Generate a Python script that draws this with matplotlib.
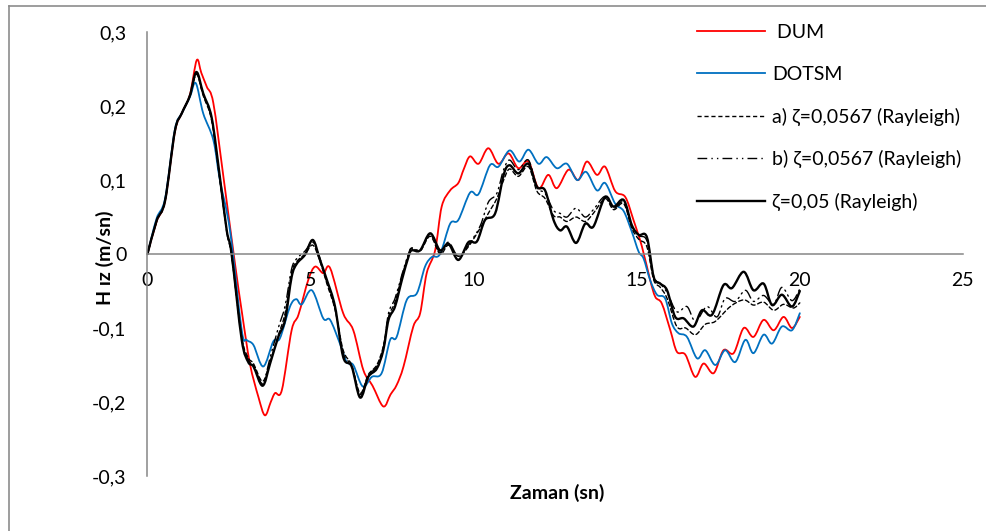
import matplotlib
matplotlib.use("Agg")
import numpy as np
import matplotlib.pyplot as plt
from matplotlib.lines import Line2D
from matplotlib.path import Path
from matplotlib.patches import PathPatch

plt.rcParams['font.family'] = ['Lato', 'DejaVu Sans']

# Time (sn) and velocity (m/sn) for each method
dum_t = [0, 0.28, 0.54, 0.84, 1.05, 1.3, 1.51, 1.65, 1.82, 2.02, 2.33, 2.68, 2.9, 3.14, 3.4,
         3.6, 3.78, 3.91, 4.12, 4.42, 4.63, 4.93, 5.14, 5.39, 5.6, 6.0, 6.31, 6.62, 6.9, 7.23,
         7.45, 7.64, 7.85, 8.15, 8.36, 8.56, 8.82, 9.02, 9.28, 9.53, 9.7, 9.89, 10.15, 10.45, 10.76,
         11.07, 11.37, 11.68, 11.99, 12.29, 12.55, 12.91, 13.21, 13.47, 13.78, 14.03, 14.34, 14.65, 14.9, 15.16,
         15.41, 15.57, 15.77, 16.03, 16.23, 16.49, 16.79, 17.05, 17.36, 17.66, 17.97, 18.28, 18.58, 18.89, 19.2,
         19.5, 19.76, 20.0]
dum_v = [0, 0.044, 0.072, 0.165, 0.19, 0.215, 0.262, 0.245, 0.226, 0.204, 0.104, -0.012, -0.08, -0.148, -0.193,
         -0.218, -0.2, -0.188, -0.184, -0.103, -0.082, -0.035, -0.017, -0.026, -0.019, -0.08, -0.103, -0.157, -0.178, -0.206,
         -0.19, -0.177, -0.152, -0.098, -0.08, -0.026, 0.005, 0.064, 0.086, 0.096, 0.115, 0.132, 0.122, 0.143, 0.122,
         0.136, 0.116, 0.125, 0.089, 0.107, 0.089, 0.114, 0.1, 0.125, 0.107, 0.118, 0.085, 0.077, 0.046, 0.01,
         -0.035, -0.058, -0.067, -0.103, -0.132, -0.136, -0.166, -0.148, -0.161, -0.13, -0.134, -0.1, -0.112, -0.089, -0.103,
         -0.085, -0.1, -0.085]

dotsm_t = [0, 0.28, 0.54, 0.84, 1.05, 1.3, 1.48, 1.71, 2.02, 2.22, 2.53, 2.89, 3.04, 3.25, 3.55,
           3.86, 4.06, 4.37, 4.56, 4.73, 5.04, 5.39, 5.6, 5.9, 6.11, 6.31, 6.6, 6.88, 7.18, 7.44,
           7.64, 7.95, 8.26, 8.51, 8.72, 8.97, 9.28, 9.53, 9.89, 10.15, 10.5, 10.76, 11.1, 11.4, 11.68,
           11.99, 12.24, 12.55, 12.86, 13.17, 13.45, 13.78, 14.03, 14.34, 14.6, 14.85, 15.06, 15.21, 15.41, 15.62,
           15.87, 16.08, 16.28, 16.54, 16.85, 17.1, 17.41, 17.71, 18.02, 18.33, 18.58, 18.89, 19.15, 19.45, 19.76,
           20.0]
dotsm_v = [0, 0.048, 0.075, 0.168, 0.19, 0.212, 0.231, 0.19, 0.154, 0.1, 0.032, -0.103, -0.116, -0.123, -0.152,
           -0.118, -0.114, -0.071, -0.061, -0.068, -0.049, -0.087, -0.089, -0.121, -0.146, -0.15, -0.179, -0.166, -0.161, -0.116,
           -0.112, -0.062, -0.053, -0.017, -0.004, 0.0, 0.041, 0.046, 0.083, 0.081, 0.12, 0.118, 0.14, 0.125, 0.141,
           0.122, 0.131, 0.116, 0.122, 0.1, 0.111, 0.086, 0.096, 0.068, 0.058, 0.03, 0.003, -0.006, -0.035, -0.055,
           -0.06, -0.094, -0.107, -0.112, -0.141, -0.13, -0.15, -0.13, -0.146, -0.116, -0.134, -0.109, -0.121, -0.098, -0.103,
           -0.08]

ray_a_t = [0, 0.28, 0.54, 0.84, 1.05, 1.3, 1.5, 1.71, 1.97, 2.22, 2.43, 2.58, 2.89, 3.09, 3.25,
           3.53, 3.76, 4.01, 4.22, 4.42, 4.58, 4.83, 5.07, 5.29, 5.5, 5.75, 6.0, 6.26, 6.52, 6.77,
           7.03, 7.23, 7.39, 7.59, 7.8, 8.0, 8.1, 8.36, 8.67, 8.97, 9.23, 9.53, 9.84, 10.2, 10.45,
           10.71, 10.92, 11.1, 11.37, 11.68, 11.94, 12.19, 12.45, 12.65, 12.86, 13.14, 13.42, 13.67, 14.03, 14.29,
           14.6, 14.85, 15.06, 15.31, 15.52, 15.72, 15.93, 16.23, 16.5, 16.8, 17.1, 17.41, 17.87, 18.28, 18.58,
           18.89, 19.2, 19.5, 19.8, 20.0]
ray_a_v = [0, 0.045, 0.072, 0.166, 0.19, 0.213, 0.243, 0.214, 0.18, 0.1, 0.03, -0.003, -0.112, -0.14, -0.148,
           -0.172, -0.146, -0.11, -0.08, -0.025, -0.01, 0.0, 0.012, -0.01, -0.04, -0.075, -0.13, -0.15, -0.188, -0.163,
           -0.15, -0.125, -0.085, -0.065, -0.03, -0.002, 0.008, 0.004, 0.024, 0.0, 0.012, -0.003, 0.01, 0.035, 0.055,
           0.075, 0.1, 0.115, 0.105, 0.118, 0.085, 0.075, 0.052, 0.05, 0.044, 0.05, 0.044, 0.055, 0.075, 0.06,
           0.068, 0.035, 0.02, 0.01, -0.035, -0.045, -0.06, -0.098, -0.1, -0.109, -0.095, -0.091, -0.071, -0.062, -0.069,
           -0.065, -0.076, -0.068, -0.073, -0.066]

ray_b_t = [0, 0.28, 0.54, 0.84, 1.05, 1.3, 1.5, 1.71, 1.97, 2.22, 2.43, 2.58, 2.89, 3.09, 3.25,
           3.53, 3.76, 4.01, 4.22, 4.42, 4.58, 4.83, 5.07, 5.29, 5.5, 5.75, 6.0, 6.26, 6.52, 6.77,
           7.03, 7.23, 7.39, 7.59, 7.8, 8.0, 8.1, 8.36, 8.67, 8.97, 9.23, 9.53, 9.84, 10.2, 10.45,
           10.71, 10.92, 11.1, 11.37, 11.68, 11.94, 12.19, 12.45, 12.65, 12.86, 13.14, 13.42, 13.67, 14.03, 14.29,
           14.6, 14.85, 15.06, 15.31, 15.52, 15.72, 15.93, 16.23, 16.54, 16.8, 17.15, 17.46, 17.71, 18.02, 18.33,
           18.58, 18.89, 19.2, 19.45, 19.76, 20.0]
ray_b_v = [0, 0.044, 0.072, 0.166, 0.19, 0.214, 0.244, 0.216, 0.182, 0.102, 0.031, -0.002, -0.113, -0.143, -0.15,
           -0.175, -0.14, -0.1, -0.07, -0.02, -0.006, 0.004, 0.016, -0.006, -0.038, -0.073, -0.134, -0.151, -0.19, -0.164,
           -0.152, -0.127, -0.08, -0.06, -0.028, 0.0, 0.008, 0.006, 0.026, 0.002, 0.016, -0.003, 0.012, 0.038, 0.07,
           0.082, 0.114, 0.127, 0.114, 0.127, 0.09, 0.082, 0.059, 0.055, 0.05, 0.062, 0.05, 0.06, 0.078, 0.062,
           0.07, 0.038, 0.025, 0.018, -0.03, -0.04, -0.052, -0.078, -0.071, -0.091, -0.071, -0.085, -0.06, -0.064, -0.049,
           -0.064, -0.056, -0.068, -0.045, -0.063, -0.047]

ray_05_t = [0, 0.28, 0.54, 0.84, 1.05, 1.3, 1.5, 1.71, 1.97, 2.22, 2.43, 2.58, 2.89, 3.09, 3.25,
            3.53, 3.76, 4.01, 4.22, 4.42, 4.58, 4.83, 5.07, 5.29, 5.5, 5.75, 6.0, 6.26, 6.52, 6.77,
            7.03, 7.23, 7.39, 7.59, 7.8, 8.0, 8.1, 8.36, 8.67, 8.97, 9.23, 9.53, 9.84, 10.1, 10.35,
            10.66, 10.92, 11.1, 11.37, 11.68, 11.94, 12.19, 12.45, 12.65, 12.86, 13.14, 13.42, 13.67, 14.03, 14.29,
            14.6, 14.85, 15.06, 15.31, 15.52, 15.72, 15.93, 16.18, 16.44, 16.74, 17.0, 17.31, 17.66, 17.92, 18.28,
            18.58, 18.89, 19.15, 19.45, 19.76, 20.0]
ray_05_v = [0, 0.045, 0.072, 0.166, 0.19, 0.214, 0.246, 0.217, 0.184, 0.104, 0.032, 0.0, -0.116, -0.146, -0.152,
            -0.178, -0.148, -0.112, -0.089, -0.031, -0.013, -0.001, 0.019, -0.008, -0.035, -0.071, -0.139, -0.152, -0.194, -0.166,
            -0.155, -0.13, -0.089, -0.071, -0.035, -0.004, 0.005, 0.005, 0.028, 0.005, 0.014, -0.008, 0.016, 0.017, 0.046,
            0.055, 0.107, 0.12, 0.109, 0.122, 0.091, 0.086, 0.046, 0.032, 0.037, 0.015, 0.041, 0.037, 0.077, 0.064,
            0.073, 0.039, 0.026, 0.023, -0.031, -0.04, -0.049, -0.085, -0.087, -0.098, -0.076, -0.082, -0.042, -0.046, -0.024,
            -0.049, -0.04, -0.069, -0.055, -0.071, -0.05]

labels = [' DUM', 'DOTSM', 'a) ζ=0,0567 (Rayleigh)', 'b) ζ=0,0567 (Rayleigh)', 'ζ=0,05 (Rayleigh)']
x_ticks = [0, 5, 10, 15, 20, 25]
y_ticks = [-0.3, -0.2, -0.1, 0, 0.1, 0.2, 0.3]
y_tick_labels = ['-0,3', '-0,2', '-0,1', '0', '0,1', '0,2', '0,3']

axis_grey = '#868686'


def smooth_path(t, v):
    # smoothed line (cubic Bezier through every point, like a spreadsheet "smoothed line")
    p = np.column_stack([t, v]).astype(float)
    ext = np.vstack([p[0], p, p[-1]])
    verts = [p[0]]
    codes = [Path.MOVETO]
    for i in range(len(p) - 1):
        c1 = p[i] + (ext[i + 2] - ext[i]) / 6.0
        c2 = p[i + 1] - (ext[i + 3] - ext[i + 1]) / 6.0
        verts += [c1, c2, p[i + 1]]
        codes += [Path.CURVE4] * 3
    return Path(verts, codes)


fig = plt.figure(figsize=(9.87, 5.31), dpi=100)
ax = fig.add_axes([0.1494, 0.1036, 0.8262, 0.836])

styles = [
    (dum_t, dum_v, dict(color='#ff0000', lw=1.3, ls='-')),
    (dotsm_t, dotsm_v, dict(color='#0070c0', lw=1.3, ls='-')),
    (ray_a_t, ray_a_v, dict(color='black', lw=1.0, ls=(0, (3, 2)))),
    (ray_b_t, ray_b_v, dict(color='black', lw=1.0, ls=(0, (7, 3, 1, 3, 1, 3)))),
    (ray_05_t, ray_05_v, dict(color='black', lw=1.7, ls='-')),
]

handles = []
for (t, v, st), lab in zip(styles, labels):
    ax.add_patch(PathPatch(smooth_path(t, v), fill=False, edgecolor=st['color'],
                           lw=st['lw'], ls=st['ls'], capstyle='round', joinstyle='round'))
    handles.append(Line2D([], [], color=st['color'], lw=st['lw'], ls=st['ls'], label=lab))

ax.set_xlim(0, 25)
ax.set_ylim(-0.3, 0.3)
ax.set_xticks(x_ticks)
ax.set_yticks(y_ticks)
ax.set_yticklabels(y_tick_labels)

for s in ['top', 'right']:
    ax.spines[s].set_visible(False)
ax.spines['bottom'].set_position(('data', 0))
for s in ['left', 'bottom']:
    ax.spines[s].set_color(axis_grey)
    ax.spines[s].set_linewidth(1.1)
ax.tick_params(axis='x', length=0, pad=13, labelsize=14)
ax.tick_params(axis='y', length=0, pad=15, labelsize=14)

fig.text(557 / 987, 1 - 493 / 531, 'Zaman (sn)', ha='center', va='center',
         fontsize=14, fontweight='bold')
fig.text(105 / 987, 1 - 258 / 531, 'H ız (m/sn)', ha='center', va='center',
         fontsize=14, fontweight='bold', rotation=90)

ax.legend(handles=handles, loc='upper left', bbox_to_anchor=(697 / 987, 1 - 24 / 531),
          bbox_transform=fig.transFigure, frameon=False, fontsize=14,
          handlelength=3.5, handletextpad=0.35, labelspacing=1.27,
          borderpad=0, borderaxespad=0)

# outer chart border
fig.add_artist(Line2D([9 / 987, 9 / 987], [0, 1 - 6 / 531], color='#8c8c8c', lw=1.2))
fig.add_artist(Line2D([9 / 987, 1], [1 - 6 / 531, 1 - 6 / 531], color='#8c8c8c', lw=1.2))

fig.savefig('out.png', dpi=100)
